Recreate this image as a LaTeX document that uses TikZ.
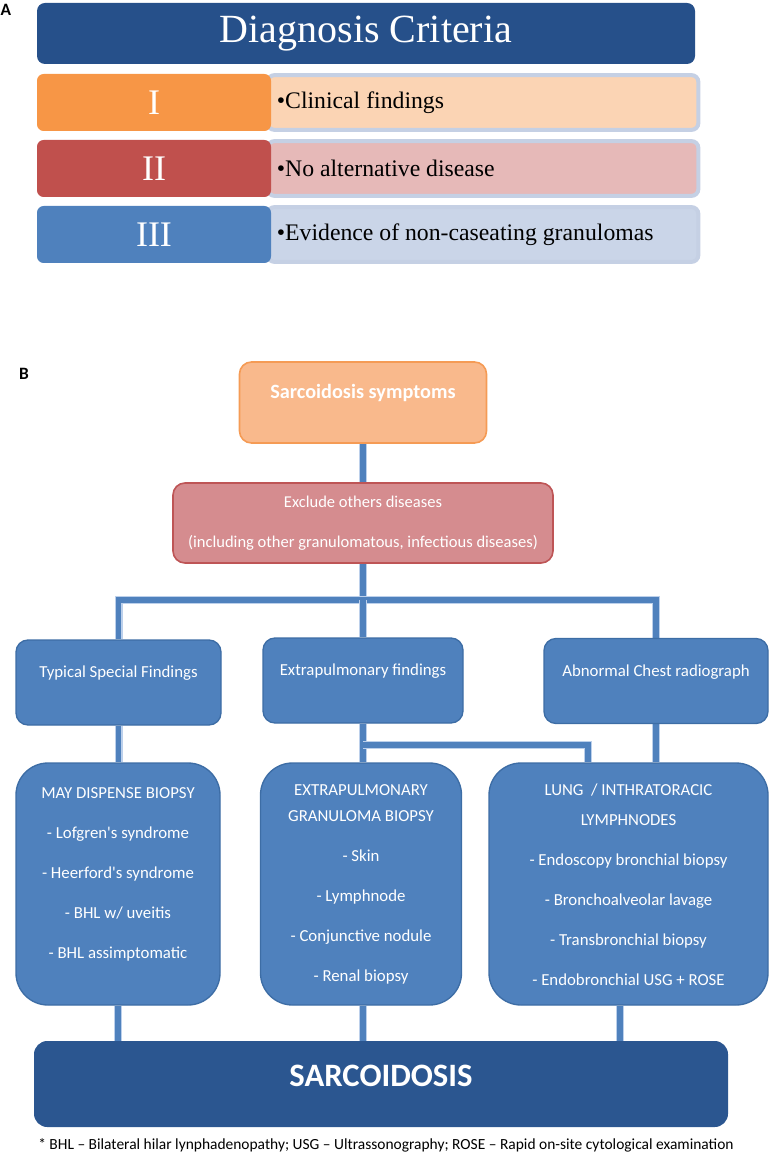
\documentclass[tikz,border=0pt]{standalone}
\usepackage{fontspec}
\setmainfont{Liberation Serif}
\newfontfamily\calib{Carlito}
\usetikzlibrary{positioning,backgrounds}

\definecolor{titleblue}{HTML}{26508A}
\definecolor{oneorange}{HTML}{F79646}
\definecolor{twored}{HTML}{C0504D}
\definecolor{threeblue}{HTML}{4F81BD}
\definecolor{onelight}{HTML}{FBD4B4}
\definecolor{twolight}{HTML}{E6B9B8}
\definecolor{threelight}{HTML}{CAD5E8}
\definecolor{itemedge}{HTML}{C5D0E4}
\definecolor{symfill}{HTML}{F9B98C}
\definecolor{symedge}{HTML}{F59B55}
\definecolor{exfill}{HTML}{D58C8F}
\definecolor{exedge}{HTML}{BE5556}
\definecolor{boxblue}{HTML}{4F81BD}
\definecolor{boxedge}{HTML}{3D6DA5}
\definecolor{linkglow}{HTML}{BCD0EB}
\definecolor{sarcblue}{HTML}{2B5690}

\begin{document}
\begin{tikzpicture}[
    x=0.75pt, y=-0.75pt,
    panellabel/.style={font=\calib\bfseries\fontsize{13}{13}\selectfont},
    headbox/.style={rectangle, rounded corners=6pt, fill=titleblue, text=white, minimum width=493.5pt, minimum height=45.75pt, font=\fontsize{30}{30}\selectfont},
    numbox/.style={rectangle, rounded corners=5pt, text=white, minimum width=175.5pt, minimum height=42.75pt, font=\fontsize{27}{27}\selectfont},
    itembox/.style={rectangle, rounded corners=5pt, draw=itemedge, line width=3pt, minimum width=323pt, minimum height=41pt},
    itemtext/.style={anchor=west, inner sep=0pt, font=\fontsize{17.8}{17.8}\selectfont},
    symbox/.style={rectangle, rounded corners=9pt, fill=symfill, draw=symedge, line width=1.2pt, minimum width=185.25pt, minimum height=60.75pt},
    exbox/.style={rectangle, rounded corners=9pt, fill=exfill, draw=exedge, line width=1.2pt, minimum width=285pt, minimum height=60pt, text=white, align=center, font=\calib\fontsize{12.4}{30}\selectfont},
    findbox/.style={rectangle, rounded corners=9pt, fill=boxblue, draw=boxedge, line width=1pt, minimum height=63.75pt},
    biobox/.style={rectangle, rounded corners=24pt, fill=boxblue, draw=boxedge, line width=1pt, minimum height=181.5pt},
    flowtext/.style={text=white, inner sep=0pt, font=\calib\fontsize{12.6}{12.6}\selectfont},
    biotext/.style={text=white, inner sep=0pt, align=center, anchor=north, font=\calib\fontsize{12.6}{20}\selectfont},
    sarcbox/.style={rectangle, rounded corners=10pt, fill=sarcblue, minimum width=520.5pt, minimum height=64.5pt},
    notetext/.style={inner sep=0pt, font=\calib\fontsize{11.6}{11.6}\selectfont},
    link/.style={preaction={draw=linkglow, line width=6pt}, draw=threeblue, line width=3.8pt}
]
\useasboundingbox (0,0) rectangle (772,1155);

% Panel A: criteria
\node [panellabel] (labA) at (6,10) {A};
\node [headbox] (head) at (366,33.5) {Diagnosis Criteria};

\node [itembox, fill=onelight] (item1) at (483,102.5) {};
\node [itembox, fill=twolight] (item2) at (483,168.5) {};
\node [itembox, fill=threelight] (item3) at (483,234.5) {};

\node [numbox, fill=oneorange] (num1) at (154,102.5) {I};
\node [numbox, fill=twored] (num2) at (154,168.5) {II};
\node [numbox, fill=threeblue] (num3) at (154,234.5) {III};

\node [itemtext, right=4pt of num1] (text1) {\textbullet Clinical findings};
\node [itemtext, right=4pt of num2] (text2) {\textbullet No alternative disease};
\node [itemtext, right=4pt of num3] (text3) {\textbullet Evidence of non-caseating granulomas};

% Panel B: flowchart
\node [panellabel] (labB) at (24,374) {B};
\node [symbox] (symptoms) at (363,402.5) {};
\node [flowtext, font=\calib\bfseries\fontsize{15.2}{15.2}\selectfont] (symptoms-txt) at (363,393) {Sarcoidosis symptoms};
\node [exbox] (exclude) at (363,523) {Exclude others diseases\\(including other granulomatous, infectious diseases)};

\node [findbox, minimum width=153.75pt] (typical) at (118.5,682.5) {};
\node [findbox, minimum width=150pt] (extra) at (363,680.5) {};
\node [findbox, minimum width=168pt] (abnormal) at (656,681) {};
\node [flowtext] (typical-txt) at (118.5,673) {Typical Special Findings};
\node [flowtext] (extra-txt) at (363,671) {Extrapulmonary findings};
\node [flowtext] (abnormal-txt) at (656,672) {Abnormal Chest radiograph};

\node [biobox, minimum width=153pt] (maybiopsy) at (118,884) {};
\node [biobox, minimum width=150.75pt] (extrabiopsy) at (361,884) {};
\node [biobox, minimum width=209.25pt] (lungbiopsy) at (628.5,884) {};
\node [biotext] (maybiopsy-txt) at (118,787) {MAY DISPENSE BIOPSY\\[10pt]- Lofgren's syndrome\\[10pt]- Heerford's syndrome\\[10pt]- BHL w/ uveitis\\[10pt]- BHL assimptomatic};
\node [biotext] (extrabiopsy-txt) at (361,784) {EXTRAPULMONARY\\GRANULOMA BIOPSY\\[10pt]- Skin\\[10pt]- Lymphnode\\[10pt]- Conjunctive nodule\\[10pt]- Renal biopsy};
\node [biotext] (lungbiopsy-txt) at (628.5,784) {LUNG\ \ / INTHRATORACIC\\[2pt]LYMPHNODES\\[10pt]- Endoscopy bronchial biopsy\\[10pt]- Bronchoalveolar lavage\\[10pt]- Transbronchial biopsy\\[10pt]- Endobronchial USG + ROSE};

\node [sarcbox] (sarc) at (381,1084) {};
\node [flowtext, font=\calib\bfseries\fontsize{24.5}{24.5}\selectfont] (sarc-txt) at (381,1076) {SARCOIDOSIS};

\node [notetext] (note) at (386,1145) {* BHL – Bilateral hilar lynphadenopathy; USG – Ultrassonography; ROSE – Rapid on-site cytological examination};

% Connectors
\begin{scope}[on background layer]
\coordinate (bus) at (363,600);
\coordinate (branch) at (588,745);
\draw [link] (symptoms.south) -- (exclude.north);
\draw [link] (exclude.south) -- (bus);
\draw [link] (typical.north) -- (typical.north |- bus) -- (abnormal.north |- bus) -- (abnormal.north);
\draw [link] (bus) -- (extra.north);
\draw [link] (extra.south) -- (extra.south |- extrabiopsy.north);
\draw [link] (extra.south |- branch) -- (branch) -- (branch |- lungbiopsy.north);
\draw [link] (typical.south) -- (typical.south |- maybiopsy.north);
\draw [link] (abnormal.south) -- (abnormal.south |- lungbiopsy.north);
\draw [link] (maybiopsy.south) -- (maybiopsy.south |- sarc.north);
\draw [link] (extra.south |- extrabiopsy.south) -- (extra.south |- sarc.north);
\draw [link] ([xshift=-6.4pt]lungbiopsy.south) -- ([xshift=-6.4pt]lungbiopsy.south |- sarc.north);
\end{scope}

\end{tikzpicture}
\end{document}
